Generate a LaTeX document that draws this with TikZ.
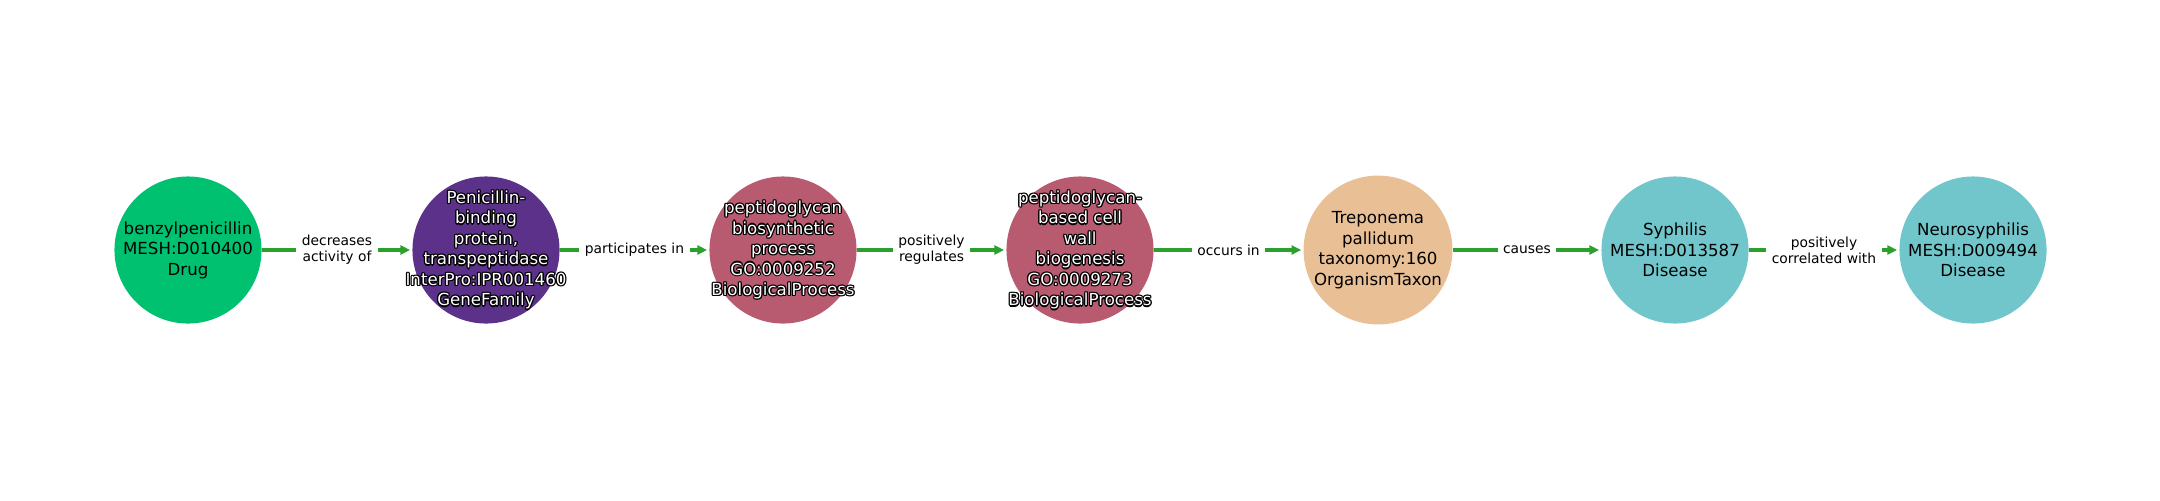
\documentclass[tikz,border=0pt]{standalone}
\usepackage{fontspec}
\setmainfont{DejaVu Sans}
\usepackage{xcolor}
\usepackage{tikz}
\usetikzlibrary{arrows.meta,positioning,calc}
\definecolor{drugcol}{RGB}{0,193,112}
\definecolor{famcol}{RGB}{91,49,137}
\definecolor{proccol}{RGB}{184,91,112}
\definecolor{taxcol}{RGB}{233,191,150}
\definecolor{discol}{RGB}{113,198,203}
\definecolor{edgecol}{RGB}{44,160,44}
\tikzstyle{entity} = [circle, minimum size=1.47in, inner sep=0pt, align=center, font=\fontsize{12}{14.8}\selectfont]
\tikzstyle{nodetext} = [align=center, inner sep=0pt, font=\fontsize{12}{14.8}\selectfont]
\tikzstyle{rel} = [fill=white, align=center, inner xsep=4pt, inner ysep=1pt, font=\fontsize{10}{11.8}\selectfont]
\tikzset{edge/.style = {
    draw=edgecol,
    line width=2.6pt,
    -{Triangle[length=7pt,width=6.5pt]},
    shorten >=1.5pt,
  }
}
\newcommand{\halolabel}[2]{%
  \foreach \hx/\hy in {-0.9/0,0.9/0,0/-0.9,0/0.9,-0.65/-0.65,0.65/0.65,-0.65/0.65,0.65/-0.65}
    \node[nodetext, text=black] at ([shift={(\hx pt,\hy pt)}]#1) {#2};
  \node[nodetext, text=white] at (#1) {#2};
}

\begin{document}
\begin{tikzpicture}[x=0.01in, y=-0.01in]
            \useasboundingbox (0,0) rectangle (2160,500);
            % vertices
            \node[entity, fill=drugcol] (n1) at (188 , 250) {benzylpenicillin\\MESH:D010400\\Drug};
            \node[entity, fill=famcol] (n2) at (486 , 250) {};
            \node[entity, fill=proccol] (n3) at (783 , 250) {};
            \node[entity, fill=proccol] (n4) at (1080 , 250) {};
            \node[entity, fill=taxcol] (n5) at (1378 , 250) {Treponema\\pallidum\\taxonomy:160\\OrganismTaxon};
            \node[entity, fill=discol] (n6) at (1675 , 250) {Syphilis\\MESH:D013587\\Disease};
            \node[entity, fill=discol] (n7) at (1973 , 250) {Neurosyphilis\\MESH:D009494\\Disease};

            \halolabel{n2}{Penicillin-\\binding\\protein,\\transpeptidase\\InterPro:IPR001460\\GeneFamily}
            \halolabel{n3}{peptidoglycan\\biosynthetic\\process\\GO:0009252\\BiologicalProcess}
            \halolabel{n4}{peptidoglycan-\\based cell\\wall\\biogenesis\\GO:0009273\\BiologicalProcess}

            %edges
            \draw[edge] (n1) to node[rel] {decreases\\activity of} (n2);
            \draw[edge] (n2) to node[rel] {participates in} (n3);
            \draw[edge] (n3) to node[rel] {positively\\regulates} (n4);
            \draw[edge] (n4) to node[rel] {occurs in} (n5);
            \draw[edge] (n5) to node[rel] {causes} (n6);
            \draw[edge] (n6) to node[rel] {positively\\correlated with} (n7);
          \end{tikzpicture}
\end{document}
